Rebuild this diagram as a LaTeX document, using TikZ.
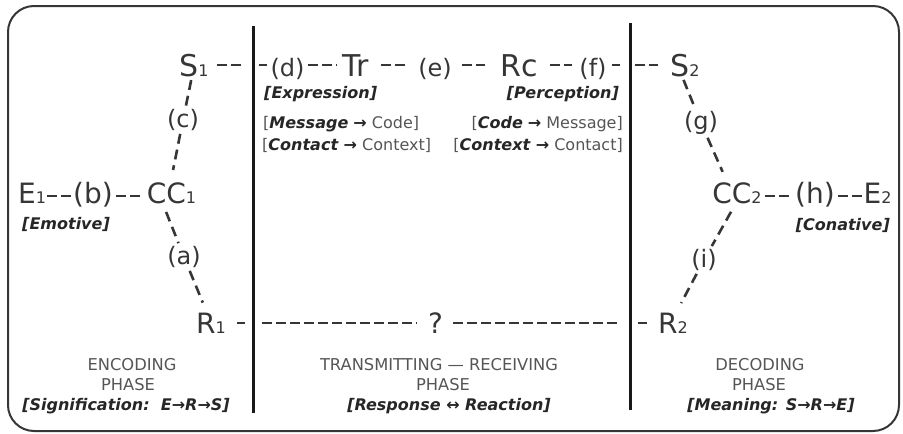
\documentclass[tikz,border=0pt]{standalone}
\usepackage{fontspec}
\setmainfont{DejaVu Sans}
\definecolor{ink}{HTML}{363636}
\definecolor{soft}{HTML}{555555}
\definecolor{dark}{HTML}{262626}
\newcommand\sbs[1]{{\fontsize{16}{16}\selectfont #1}}
\newcommand\fsz[1]{\fontsize{#1}{#1}\selectfont}
\newcommand\bix[1]{{\bfseries\itshape #1}}
\begin{document}
\begin{tikzpicture}[x=1pt,y=-1pt,
  toprow/.style={font=\fsz{30}, text=ink, inner sep=0pt, text height=22pt, text depth=0pt, anchor=base},
  toplab/.style={font=\fsz{24}, text=ink, inner sep=0pt, text height=22pt, text depth=0pt, anchor=base},
  midrow/.style={font=\fsz{28}, text=ink, inner sep=0pt, text height=20pt, text depth=6pt, anchor=base},
  midlab/.style={font=\fsz{28}, text=ink, inner sep=0pt, text height=20pt, text depth=6pt, anchor=base},
  botrow/.style={font=\fsz{28}, text=ink, inner sep=0pt, text height=20pt, text depth=0pt, anchor=base},
  slab/.style={font=\fsz{24}, text=ink, inner sep=3pt},
  hdash/.style={draw=ink, line width=2.3pt, dash pattern=on 10pt off 4pt},
  sdash/.style={draw=ink, line width=2.6pt, dash pattern=on 10pt off 6pt},
  vline/.style={draw=black!90, line width=3pt},
  tag/.style={font=\fsz{16}, text=dark, inner sep=0pt},
  phase/.style={font=\fsz{16.3}, text=soft, inner sep=0pt, anchor=base},
  phasebr/.style={font=\fsz{16}\bfseries\itshape, text=dark, inner sep=0pt, anchor=base}
]
\useasboundingbox (0,0) rectangle (903,434);
\draw[line width=2pt, draw=ink, rounded corners=26pt] (8,6) rectangle (899,431);

% vertical separators
\coordinate (v1t) at (253,26);
\coordinate (v1b) at (253,413);
\coordinate (v2t) at (630,23);
\coordinate (v2b) at (630,410);
\draw[vline] (v1t) -- (v1b);
\draw[vline] (v2t) -- (v2b);

% top row
\node[toprow] (S1) at (194,76) {S\sbs{1}};
\node[toplab] (d) at (287.5,76) {(d)};
\node[toprow] (Tr) at (356,76) {Tr};
\node[toplab] (e) at (435,76) {(e)};
\node[toprow] (Rc) at (519.5,76) {Rc};
\node[toplab] (f) at (593,76) {(f)};
\node[toprow] (S2) at (685,76) {S\sbs{2}};

% middle row
\node[midrow] (E1) at (32,203) {E\sbs{1}};
\node[midlab] (b) at (93,203) {(b)};
\node[midrow] (CC1) at (171.5,203) {CC\sbs{1}};
\node[midrow] (CC2) at (737,203) {CC\sbs{2}};
\node[midlab] (h) at (815,203) {(h)};
\node[midrow] (E2) at (877.5,203) {E\sbs{2}};

% bottom row
\node[botrow] (R1) at (211,333) {R\sbs{1}};
\node[botrow] (q) at (435.5,333) {?};
\node[botrow] (R2) at (673,333) {R\sbs{2}};

% slanted labels
\node[slab] (c) at (183,120) {(c)};
\node[slab] (a) at (184,257) {(a)};
\node[slab] (g) at (701,123) {(g)};
\node[slab] (i) at (704,260) {(i)};

% horizontal connectors, top
\draw[hdash, shorten <=8pt, shorten >=12pt] (S1) -- (S1 -| v1t);
\draw[hdash, shorten <=6pt, shorten >=3pt] (d -| v1t) -- (d);
\draw[hdash, shorten <=3.5pt, shorten >=5.7pt] (d) -- (Tr);
\draw[hdash, shorten <=12pt, shorten >=11pt] (Tr) -- (e);
\draw[hdash, shorten <=10pt, shorten >=15.8pt] (e) -- (Rc);
\draw[hdash, shorten <=12pt, shorten >=7pt] (Rc) -- (f);
\draw[hdash, shorten <=5pt, shorten >=10pt] (f) -- (f -| v2t);
\draw[hdash, shorten <=5pt, shorten >=12pt] (S2 -| v2t) -- (S2);

% horizontal connectors, middle
\draw[hdash, shorten <=1pt, shorten >=2pt] (E1) -- (b);
\draw[hdash, shorten <=3pt, shorten >=4pt] (b) -- (CC1);
\draw[hdash, shorten <=3pt, shorten >=3pt] (CC2) -- (h);
\draw[hdash, shorten <=3pt, shorten >=1.5pt] (h) -- (E2);

% horizontal connectors, bottom
\draw[hdash, shorten <=11pt, shorten >=8pt] (R1) -- (R1 -| v1t);
\draw[hdash, shorten <=9pt, shorten >=11pt] (q -| v1t) -- (q);
\draw[hdash, shorten <=10pt, shorten >=10pt] (q) -- (q -| v2t);
\draw[hdash, shorten <=8pt, shorten >=11pt] (R2 -| v2t) -- (R2);

% slanted connectors
\draw[sdash, shorten <=4pt] ([xshift=-2pt]S1.south) -- (c);
\draw[sdash, shorten >=13pt] (c) -- ([xshift=-1pt]CC1.north);
\draw[sdash, shorten <=3pt] ([xshift=-6.5pt]CC1.south) -- (a);
\draw[sdash, shorten >=11pt] (a) -- ([xshift=-4pt]R1.north);
\draw[sdash, shorten <=4pt] ([xshift=-3pt]S2.south) -- (g);
\draw[sdash, shorten >=12pt] (g) -- ([xshift=-9.5pt]CC2.north);
\draw[sdash, shorten <=3pt] ([xshift=-4.5pt]CC2.south) -- (i);
\draw[sdash, shorten >=11pt] (i) -- ([xshift=3pt]R2.north);

% tags
\node[tag, anchor=base west] (expr) at (264,98) {\bix{[Expression]}};
\node[tag, anchor=base east] (perc) at (619,98) {\bix{[Perception]}};
\node[tag, anchor=base west] (mc) at (263,128) {\textcolor{soft}{[}\bix{Message} \textbf{→} \textcolor{soft}{Code]}};
\node[tag, anchor=base west] (cc) at (262,150) {\textcolor{soft}{[}\bix{Contact} \textbf{→} \textcolor{soft}{Context]}};
\node[tag, anchor=base east] (cm) at (623,128) {\textcolor{soft}{[}\bix{Code} \textbf{→} \textcolor{soft}{Message]}};
\node[tag, anchor=base east] (cx) at (623,150) {\textcolor{soft}{[}\bix{Context} \textbf{→} \textcolor{soft}{Contact]}};
\node[tag, anchor=base west] (emo) at (22,229) {\bix{[Emotive]}};
\node[tag, anchor=base east] (con) at (890,230) {\bix{[Conative]}};

% phases
\node[phase] (p1a) at (132,370) {ENCODING};
\node[phase] (p1b) at (128,390) {PHASE};
\node[phasebr] (p1c) at (126,410) {[Signification:\ \ E→R→S]};
\node[phase] (p2a) at (439,370) {TRANSMITTING — RECEIVING};
\node[phase] (p2b) at (443,390) {PHASE};
\node[phasebr] (p2c) at (449,410) {[Response ↔ Reaction]};
\node[phase] (p3a) at (760,370) {DECODING};
\node[phase] (p3b) at (759,390) {PHASE};
\node[phasebr] (p3c) at (771,410) {[Meaning: S→R→E]};
\end{tikzpicture}
\end{document}
